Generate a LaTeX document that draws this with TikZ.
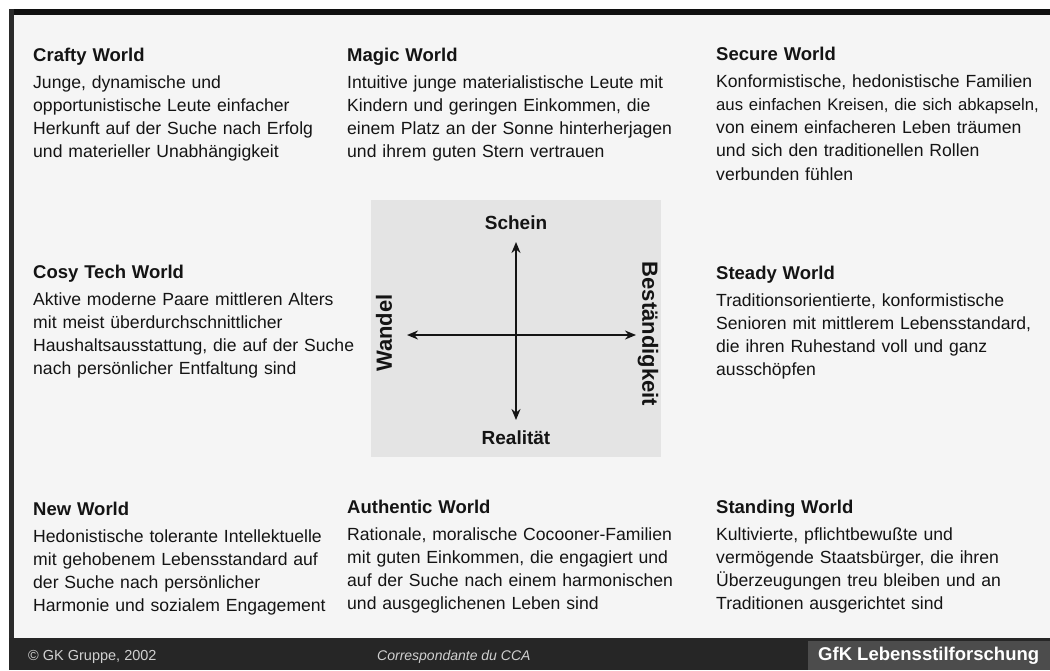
\documentclass[tikz,border=0pt]{standalone}
\usepackage{fontspec}
\setmainfont{Liberation Sans}
\usetikzlibrary{arrows.meta}
\definecolor{ink}{HTML}{141414}
\definecolor{panel}{HTML}{F5F5F5}
\definecolor{quad}{HTML}{E4E4E4}
\definecolor{frameC}{HTML}{2A2A2A}
\definecolor{topbar}{HTML}{101010}
\definecolor{footC}{HTML}{262626}
\definecolor{footbox}{HTML}{4C4C4C}
\definecolor{foottext}{HTML}{D0D0D0}
\newcommand\wtitle[1]{{\bfseries\fontsize{18.5}{23.3}\selectfont #1}\\[3.7pt]}
\newcommand\narrowline[1]{{\fontsize{16.7}{23.3}\selectfont #1}}
\begin{document}
\begin{tikzpicture}[x=1pt,y=-1pt,
  blk/.style={anchor=base west, inner sep=0pt, text width=400pt, align=left, text=ink, font=\fontsize{17.6}{23.3}\selectfont},
  axislbl/.style={inner sep=0pt, text=ink, font=\bfseries\fontsize{19}{22}\selectfont},
  sidelbl/.style={inner sep=0pt, text=ink, font=\bfseries\fontsize{22}{24}\selectfont},
  axisarrow/.style={line width=2pt, draw=ink, {Stealth[length=11pt,width=9pt]}-{Stealth[length=11pt,width=9pt]}},
  foot/.style={anchor=west, inner sep=0pt, text=foottext, font=\fontsize{14.5}{16}\selectfont}
]
\useasboundingbox (0,0) rectangle (1050,670);
\fill[white] (0,0) rectangle (1050,670);
% frame and panel
\fill[panel] (9,9) rectangle (1050,640);
\fill[topbar] (9,9) rectangle (1050,15);
\fill[frameC] (9,9) rectangle (14,670);
\fill[footC] (9,638) rectangle (1050,670);
\fill[footbox] (808,641) rectangle (1050,670);

% text blocks
\node[blk] (crafty) at (33,61) {\wtitle{Crafty World}Junge, dynamische und\\opportunistische Leute einfacher\\Herkunft auf der Suche nach Erfolg\\und materieller Unabhängigkeit};
\node[blk] (magic) at (347,61) {\wtitle{Magic World}Intuitive junge materialistische Leute mit\\Kindern und geringen Einkommen, die\\einem Platz an der Sonne hinterherjagen\\und ihrem guten Stern vertrauen};
\node[blk] (secure) at (716,60) {\wtitle{Secure World}Konformistische, hedonistische Familien\\\narrowline{aus einfachen Kreisen, die sich abkapseln,}\\von einem einfacheren Leben träumen\\und sich den traditionellen Rollen\\verbunden fühlen};
\node[blk] (cosy) at (33,278) {\wtitle{Cosy Tech World}Aktive moderne Paare mittleren Alters\\mit meist überdurchschnittlicher\\Haushaltsausstattung, die auf der Suche\\nach persönlicher Entfaltung sind};
\node[blk] (steady) at (716,279) {\wtitle{Steady World}Traditionsorientierte, konformistische\\Senioren mit mittlerem Lebensstandard,\\die ihren Ruhestand voll und ganz\\ausschöpfen};
\node[blk] (new) at (33,515) {\wtitle{New World}Hedonistische tolerante Intellektuelle\\mit gehobenem Lebensstandard auf\\der Suche nach persönlicher\\Harmonie und sozialem Engagement};
\node[blk] (authentic) at (347,513) {\wtitle{Authentic World}Rationale, moralische Cocooner-Familien\\mit guten Einkommen, die engagiert und\\auf der Suche nach einem harmonischen\\und ausgeglichenen Leben sind};
\node[blk] (standing) at (716,513) {\wtitle{Standing World}Kultivierte, pflichtbewußte und\\vermögende Staatsbürger, die ihren\\Überzeugungen treu bleiben und an\\Traditionen ausgerichtet sind};

% central quadrant
\fill[quad] (371,200) rectangle (661,457);
\coordinate (vt) at (516,242);
\coordinate (vb) at (516,420);
\coordinate (hl) at (407,335);
\coordinate (hr) at (636,335);
\draw[axisarrow] (vb) -- (vt);
\draw[axisarrow] (hl) -- (hr);
\node[axislbl] (schein) at (516,223) {Schein};
\node[axislbl] (realitaet) at (516,438) {Realität};
\node[sidelbl, rotate=90] (wandel) at (384,333) {Wandel};
\node[sidelbl, rotate=-90] (best) at (648,334) {Beständigkeit};

% footer
\node[foot] (copy) at (28,657) {© GK Gruppe, 2002};
\node[foot, font=\itshape\fontsize{14}{16}\selectfont] (corr) at (377,657) {Correspondante du CCA};
\node[anchor=west, inner sep=0pt, text=white, font=\bfseries\fontsize{18.5}{20}\selectfont] (gfk) at (818,656) {GfK Lebensstilforschung};
\end{tikzpicture}
\end{document}
